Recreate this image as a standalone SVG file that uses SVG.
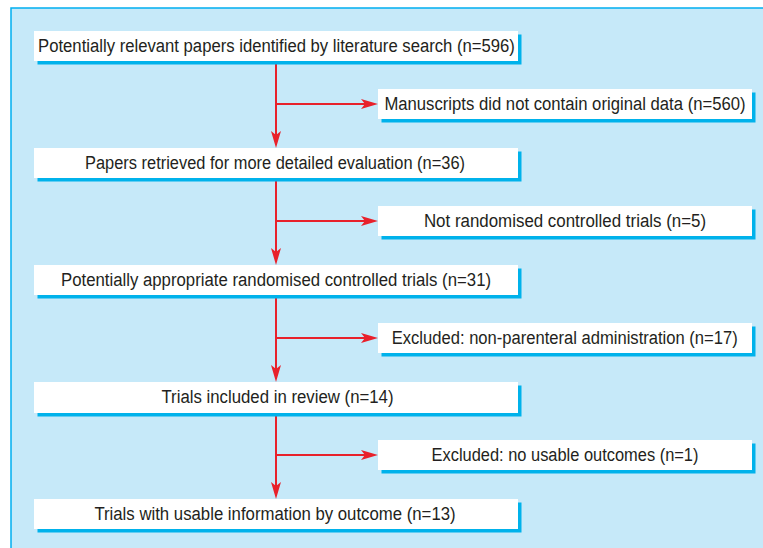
<svg xmlns="http://www.w3.org/2000/svg" width="763" height="548" viewBox="0 0 763 548">
<defs>
<style>
.box{fill:#ffffff}
.sh{fill:#00b2eb}
.t{font-family:"Liberation Sans",Arial,sans-serif;font-size:19px;fill:#231f20;text-anchor:middle}
.c{stroke:#e8212b;stroke-width:2;fill:none}
</style>
<marker id="ah" markerUnits="userSpaceOnUse" viewBox="0 0 17 10" markerWidth="17" markerHeight="10" refX="4" refY="5" orient="auto">
<path d="M0,0 L17,5 L0,10 L4,5 Z" fill="#e8212b"/>
</marker>
</defs>
<rect x="0" y="0" width="763" height="548" fill="#ffffff"/>
<rect x="11" y="8" width="760" height="550" fill="#c6e9f9" stroke="#00aeef" stroke-width="1.5"/>

<g id="connectors">
<path class="c" d="M276,61 V135" marker-end="url(#ah)"/>
<path class="c" d="M276,104 H365" marker-end="url(#ah)"/>
<path class="c" d="M276,178 V252" marker-end="url(#ah)"/>
<path class="c" d="M276,221 H365" marker-end="url(#ah)"/>
<path class="c" d="M276,295 V369" marker-end="url(#ah)"/>
<path class="c" d="M276,338 H365" marker-end="url(#ah)"/>
<path class="c" d="M276,413 V486" marker-end="url(#ah)"/>
<path class="c" d="M276,455 H365" marker-end="url(#ah)"/>
</g>

<g id="n1">
<rect class="sh" x="37.5" y="34.5" width="484" height="30"/>
<rect class="box" x="34" y="31" width="484" height="30"/>
<text class="t" transform="translate(276.5,52) scale(0.85,1)" textLength="561" lengthAdjust="spacingAndGlyphs">Potentially relevant papers identified by literature search (n=596)</text>
</g>
<g id="s1">
<rect class="sh" x="381.5" y="92.5" width="374" height="30"/>
<rect class="box" x="378" y="89" width="374" height="30"/>
<text class="t" transform="translate(565,110) scale(0.85,1)" textLength="425" lengthAdjust="spacingAndGlyphs">Manuscripts did not contain original data (n=560)</text>
</g>
<g id="n2">
<rect class="sh" x="37.5" y="151.5" width="484" height="30"/>
<rect class="box" x="34" y="148" width="484" height="30"/>
<text class="t" transform="translate(275,169) scale(0.85,1)" textLength="447" lengthAdjust="spacingAndGlyphs">Papers retrieved for more detailed evaluation (n=36)</text>
</g>
<g id="s2">
<rect class="sh" x="381.5" y="209.5" width="374" height="30"/>
<rect class="box" x="378" y="206" width="374" height="30"/>
<text class="t" transform="translate(565,227) scale(0.85,1)" textLength="332" lengthAdjust="spacingAndGlyphs">Not randomised controlled trials (n=5)</text>
</g>
<g id="n3">
<rect class="sh" x="37.5" y="268.5" width="484" height="30"/>
<rect class="box" x="34" y="265" width="484" height="30"/>
<text class="t" transform="translate(276,286) scale(0.85,1)" textLength="506" lengthAdjust="spacingAndGlyphs">Potentially appropriate randomised controlled trials (n=31)</text>
</g>
<g id="s3">
<rect class="sh" x="381.5" y="326.5" width="374" height="30"/>
<rect class="box" x="378" y="323" width="374" height="30"/>
<text class="t" transform="translate(564.7,344) scale(0.85,1)" textLength="407" lengthAdjust="spacingAndGlyphs">Excluded: non-parenteral administration (n=17)</text>
</g>
<g id="n4">
<rect class="sh" x="37.5" y="385.5" width="484" height="31"/>
<rect class="box" x="34" y="382" width="484" height="31"/>
<text class="t" transform="translate(277.5,403) scale(0.85,1)" textLength="273" lengthAdjust="spacingAndGlyphs">Trials included in review (n=14)</text>
</g>
<g id="s4">
<rect class="sh" x="381.5" y="443.5" width="374" height="30"/>
<rect class="box" x="378" y="440" width="374" height="30"/>
<text class="t" transform="translate(565,461) scale(0.85,1)" textLength="314" lengthAdjust="spacingAndGlyphs">Excluded: no usable outcomes (n=1)</text>
</g>
<g id="n5">
<rect class="sh" x="37.5" y="502.5" width="484" height="30"/>
<rect class="box" x="34" y="499" width="484" height="30"/>
<text class="t" transform="translate(275,520) scale(0.85,1)" textLength="425" lengthAdjust="spacingAndGlyphs">Trials with usable information by outcome (n=13)</text>
</g>
</svg>
